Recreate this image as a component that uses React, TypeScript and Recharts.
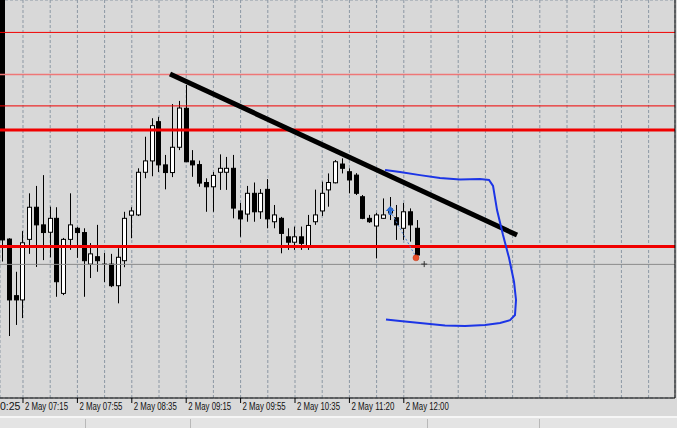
import React from 'react';
import { ComposedChart, Bar, Line, Scatter, XAxis, YAxis, CartesianGrid, ReferenceLine } from 'recharts';

// 5-minute bars, slot -1 is the half-hidden bar at the left edge
const opens = [
  246, 154.9, 135.0, 133.5, 154.8, 166.1, 159.9, 157.3, 162.2, 135.8, 154.8, 158.7, 157.2, 146.1, 148.7, 145.8,
  146.1, 138.5, 147.3, 163.3, 163.4, 178.4, 182.4, 196.2, 181.0, 178.3, 187.2, 200.9, 182.4, 181.1, 174.8, 173.3,
  178.4, 178.4, 179.8, 164.8, 163.7, 171.0, 164.5, 172.4, 161.0, 162.2, 155.7, 153.8, 155.7, 152.2, 161.0, 164.8,
  172.2, 174.7, 181.3, 178.6, 177.4, 169.8, 162.2, 159.5, 162.2, 164.1, 162.4, 158.7, 164.5, 158.7,
];
const highs = [
  252, 155.2, 143.4, 157.7, 171.0, 173.6, 177.4, 166.3, 166.1, 155.3, 171.0, 159.2, 158.7, 153.5, 159.9, 150.0,
  149.7, 151.7, 164.5, 166.1, 179.8, 190.9, 197.4, 197.9, 184.5, 202.4, 203.5, 209.1, 186.2, 182.5, 176.3, 178.5,
  184.7, 183.8, 184.5, 167.6, 173.6, 174.8, 172.5, 176.0, 166.9, 162.7, 158.7, 159.3, 159.3, 163.4, 172.3, 175.1,
  178.0, 182.7, 183.3, 179.8, 178.1, 170.4, 163.4, 164.1, 169.2, 169.7, 166.9, 167.6, 165.7, 161.6,
];
const lows = [
  147, 120.8, 124.7, 127.1, 149.7, 145.1, 147.5, 148.5, 134.6, 135.2, 151.1, 148.3, 134.6, 141.2, 143.4, 139.8,
  138.0, 132.3, 145.0, 155.2, 163.0, 176.3, 177.0, 178.5, 172.4, 176.7, 186.2, 182.0, 176.8, 173.3, 164.5, 164.5,
  172.2, 172.2, 162.2, 155.7, 161.0, 161.0, 162.0, 158.7, 158.7, 149.9, 151.1, 151.1, 151.1, 151.1, 159.9, 163.0,
  166.3, 174.5, 178.0, 171.0, 170.4, 161.9, 160.6, 148.1, 162.0, 161.6, 154.6, 154.6, 154.0, 147.5,
];
const closes = [
  154.6, 133.5, 133.5, 153.6, 166.1, 159.9, 157.2, 162.2, 139.9, 154.8, 159.9, 157.2, 147.3, 149.7, 147.3, 146.1,
  138.5, 148.5, 162.2, 164.8, 178.4, 182.4, 194.8, 181.0, 178.3, 187.2, 201.0, 182.1, 181.0, 174.6, 173.3, 177.3,
  179.8, 179.8, 165.8, 162.0, 171.0, 164.5, 171.0, 162.0, 163.4, 156.9, 153.8, 155.7, 153.4, 159.7, 163.4, 171.0,
  174.8, 182.1, 179.8, 175.7, 171.0, 162.2, 161.0, 163.4, 163.4, 165.5, 159.9, 164.5, 159.9, 149.3,
];

// time axis
const gridSlots = [2, 6, 10, 14, 18, 22, 26, 30, 34, 38, 42, 46, 50, 54, 58, 62, 66, 70, 74, 78, 82, 86, 90, 94];
const labelSlots = [-6, 2, 10, 18, 26, 34, 42, 50, 58];
const labelTexts = ['0:25', '2 May 07:15', '2 May 07:55', '2 May 08:35', '2 May 09:15', '2 May 09:55', '2 May 10:35', '2 May 11:20', '2 May 12:00'];
const priceGrid = [100, 110, 120, 130, 140, 150, 160, 170, 180, 190, 200, 210, 220, 230];

// horizontal levels
const levelPrices = [227.6, 212.8, 201.75, 193.3, 152.3];
const levelColors = ['#f00000', '#ee7777', '#f00000', '#f00000', '#f00000'];
const levelWidths = [1, 1.5, 1, 3, 3];
const bidLevel = 146.0;

// trend line ends
const trendSlots = [23.62, 74.65];
const trendPrices = [213.0, 156.3];

// hand-drawn blue bracket
const blueSlots = [55.24, 57.44, 60.38, 63.32, 66.26, 69.21, 70.53, 71.12, 71.71, 72.59, 73.47, 74.21, 74.5, 74.35, 73.62, 72.15, 69.94, 67.0, 64.06, 60.38, 57.44, 55.38];
const bluePrices = [179.2, 178.5, 177.4, 176.4, 175.9, 176.0, 175.7, 173.6, 165.1, 156.3, 148.3, 139.8, 133.5, 128.2, 126.4, 125.4, 124.7, 124.3, 124.5, 125.4, 126.1, 126.6];

// trade marks
const tradeSlots = [56.0, 59.79];
const tradePrices = [164.8, 148.6];
const markKinds = ['buy', 'close', 'cross'];
const markSlots = [56.0, 59.79, 61.0];
const markPrices = [164.8, 148.3, 146.1];

const candles = opens.map((o, k) => ({ i: k - 1, open: o, high: highs[k], low: lows[k], close: closes[k] }));
const blue = blueSlots.map((s, k) => ({ i: s, v: bluePrices[k] }));
const trade = tradeSlots.map((s, k) => ({ i: s, v: tradePrices[k] }));
const marks = markSlots.map((s, k) => ({ i: s, v: markPrices[k], kind: markKinds[k] }));

const Candle = (props: any) => {
  const { x, y, width, height, payload } = props;
  const { open, close, high, low } = payload;
  const top = Math.min(y, y + height);
  const h = Math.abs(height);
  const ratio = high === low ? 0 : h / (high - low);
  const yOf = (v: number) => top + (high - v) * ratio;
  const left = Math.round(x + width / 2 - 2.5);
  const cx = left + 2.5;
  const bTop = yOf(Math.max(open, close));
  const bBot = yOf(Math.min(open, close));
  const up = close > open;
  return (
    <g>
      <line x1={cx} x2={cx} y1={top} y2={top + h} stroke="#000" strokeWidth={1} />
      {Math.abs(bBot - bTop) < 1 ? (
        <line x1={left} x2={left + 5} y1={bTop} y2={bTop} stroke="#000" strokeWidth={1} />
      ) : (
        <rect x={left + 0.5} y={bTop} width={4} height={bBot - bTop} fill={up ? '#fff' : '#000'} stroke="#000" strokeWidth={1} />
      )}
    </g>
  );
};

const TimeTick = (props: any) => {
  const { x, y, payload } = props;
  const k = labelSlots.indexOf(payload.value);
  if (k < 0) return <g />;
  const font = "'Liberation Sans', Arial, sans-serif";
  if (x < 0) {
    // label whose start lies left of the window: only its tail shows
    return <text x={0} y={y + 12} fontSize={10.5} fontFamily={font} fill="#111">{labelTexts[k]}</text>;
  }
  return (
    <g>
      <line x1={x} x2={x} y1={y} y2={y + 5} stroke="#000" />
      <text x={x + 2} y={y + 12} fontSize={10.5} fontFamily={font} fill="#111"
        textLength={43} lengthAdjust="spacingAndGlyphs">{labelTexts[k]}</text>
    </g>
  );
};

const Mark = (props: any) => {
  const { cx, cy, payload } = props;
  if (payload.kind === 'buy') {
    return <path d={`M${cx},${cy - 5} L${cx + 4.5},${cy} L${cx + 1.5},${cy} L${cx + 1.5},${cy + 4} L${cx - 1.5},${cy + 4} L${cx - 1.5},${cy} L${cx - 4.5},${cy} Z`} fill="#2a6ad0" />;
  }
  if (payload.kind === 'close') {
    return <circle cx={cx} cy={cy} r={3} fill="#e8502a" stroke="#c03010" strokeWidth={0.5} />;
  }
  return (
    <g stroke="#333" strokeWidth={1}>
      <line x1={cx - 3} x2={cx + 3} y1={cy} y2={cy} />
      <line x1={cx} x2={cx} y1={cy - 3} y2={cy + 3} />
    </g>
  );
};

export default function App() {
  return (
    <div style={{ position: 'absolute', left: 0, top: 0, width: 677, height: 428, background: '#d9d9d9', overflow: 'hidden' }}>
      <ComposedChart width={677} height={416} data={candles} margin={{ top: 0, right: 0, bottom: 0, left: 0 }}>
        <CartesianGrid stroke="#8c98a4" strokeDasharray="3 2" fill="#d8d8d8" />
        <XAxis type="number" dataKey="i" domain={[-1.382, 97.88]} allowDataOverflow
          ticks={[...labelSlots.slice(0, 1), ...gridSlots]} interval={0}
          height={18} tickSize={0} tickMargin={0} tickLine={false}
          axisLine={{ stroke: '#000' }} tick={<TimeTick />} />
        <YAxis type="number" orientation="right" domain={[99, 239]} allowDataOverflow ticks={priceGrid}
          width={2} tick={false} tickLine={false} axisLine={{ stroke: '#000' }} />
        <ReferenceLine y={bidLevel} stroke="#8a8a8a" strokeWidth={1} />
        <Bar dataKey={(d: any) => [d.low, d.high]} barSize={5} shape={<Candle />} activeBar={false} isAnimationActive={false} />
        {levelPrices.map((v, k) => (
          <ReferenceLine key={`lvl-${k}`} y={v} stroke={levelColors[k]} strokeWidth={levelWidths[k]} />
        ))}
        <ReferenceLine segment={[{ x: trendSlots[0], y: trendPrices[0] }, { x: trendSlots[1], y: trendPrices[1] }]}
          stroke="#000" strokeWidth={5} />
        <Line data={trade} dataKey="v" type="linear" stroke="#4a7fd0" strokeWidth={1} strokeDasharray="2 2"
          dot={false} activeDot={false} isAnimationActive={false} />
        <Scatter data={marks} dataKey="v" shape={<Mark />} activeShape={<Mark />} isAnimationActive={false} />
        <Line data={blue} dataKey="v" type="linear" stroke="#1c35e6" strokeWidth={2}
          dot={false} activeDot={false} isAnimationActive={false} />
      </ComposedChart>
      <div style={{ position: 'absolute', left: 0, top: 416, width: 677, height: 12, background: '#e4e4e4', borderTop: '2px solid #f6f6f6', boxSizing: 'border-box' }}>
        {[85, 190, 427, 539].map((p) => (
          <div key={p} style={{ position: 'absolute', left: p, top: 1, width: 1, height: 10, background: '#b8b8b8' }} />
        ))}
      </div>
    </div>
  );
}
